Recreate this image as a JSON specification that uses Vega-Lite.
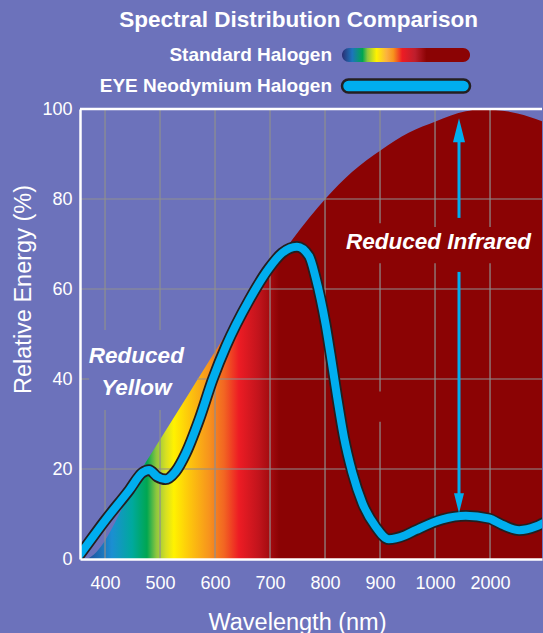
{
  "$schema": "https://vega.github.io/schema/vega-lite/v6.json",
  "background": "#6c72bb",
  "padding": {"left": 11, "top": 9, "right": 0, "bottom": 0},
  "spacing": 4,
  "title": {"text": "Spectral Distribution Comparison", "font": "Liberation Sans", "fontSize": 22.5, "fontWeight": "bold", "color": "white", "anchor": "middle", "dx": 21, "offset": 14.5},
  "config": {"view": {"stroke": null}, "font": "Liberation Sans"},
  "datasets": {
    "standard": [
      {"wavelength": 354.5, "energy": 0}, {"wavelength": 362, "energy": 0}, {"wavelength": 473, "energy": 21.3},
      {"wavelength": 550, "energy": 36.3}, {"wavelength": 625, "energy": 50.9}, {"wavelength": 662, "energy": 57.5},
      {"wavelength": 698, "energy": 63.6}, {"wavelength": 740, "energy": 70.9}, {"wavelength": 771, "energy": 75.8},
      {"wavelength": 802, "energy": 80.2}, {"wavelength": 849, "energy": 86}, {"wavelength": 902, "energy": 90.9},
      {"wavelength": 952, "energy": 94.7}, {"wavelength": 1002, "energy": 97.3}, {"wavelength": 1056, "energy": 99.5},
      {"wavelength": 1080, "energy": 99.9}, {"wavelength": 1110, "energy": 99.8}, {"wavelength": 1150, "energy": 99},
      {"wavelength": 1194.5, "energy": 97.3}
    ],
    "eye": [
      {"wavelength": 350, "energy": 0.3}, {"wavelength": 358, "energy": 1.6}, {"wavelength": 401, "energy": 8.7},
      {"wavelength": 444, "energy": 15.3}, {"wavelength": 468, "energy": 19.2}, {"wavelength": 480, "energy": 19.8},
      {"wavelength": 495, "energy": 18.3}, {"wavelength": 510, "energy": 17.7}, {"wavelength": 528, "energy": 19.4},
      {"wavelength": 547, "energy": 23.5}, {"wavelength": 571, "energy": 30.9}, {"wavelength": 596, "energy": 40},
      {"wavelength": 620, "energy": 47.3}, {"wavelength": 662, "energy": 57.5}, {"wavelength": 698, "energy": 64.6},
      {"wavelength": 722, "energy": 68}, {"wavelength": 749, "energy": 69.4}, {"wavelength": 771, "energy": 67.3},
      {"wavelength": 783, "energy": 62.5}, {"wavelength": 792, "energy": 57.8}, {"wavelength": 801, "energy": 52.2},
      {"wavelength": 810, "energy": 45.5}, {"wavelength": 822, "energy": 36}, {"wavelength": 834.5, "energy": 27},
      {"wavelength": 849.6, "energy": 19.2}, {"wavelength": 868, "energy": 12.4}, {"wavelength": 892, "energy": 7.2},
      {"wavelength": 916, "energy": 4.4}, {"wavelength": 946, "energy": 5.3}, {"wavelength": 965, "energy": 6.4},
      {"wavelength": 1013, "energy": 8.8}, {"wavelength": 1056, "energy": 9.6}, {"wavelength": 1098, "energy": 9.0},
      {"wavelength": 1122, "energy": 7.6}, {"wavelength": 1153, "energy": 6.4}, {"wavelength": 1183, "energy": 7.2},
      {"wavelength": 1200, "energy": 8.2}
    ],
    "vgrid": [
      {"wavelength": 400, "from": 0, "to": 33.1}, {"wavelength": 400, "from": 50.9, "to": 100},
      {"wavelength": 500, "from": 0, "to": 33.1}, {"wavelength": 500, "from": 50.9, "to": 100},
      {"wavelength": 600, "from": 0, "to": 100}, {"wavelength": 700, "from": 0, "to": 100},
      {"wavelength": 800, "from": 0, "to": 100},
      {"wavelength": 900, "from": 0, "to": 30.5}, {"wavelength": 900, "from": 37.2, "to": 65.7}, {"wavelength": 900, "from": 74.6, "to": 100},
      {"wavelength": 1000, "from": 0, "to": 65.7}, {"wavelength": 1000, "from": 73.8, "to": 100},
      {"wavelength": 1100, "from": 0, "to": 65.7}, {"wavelength": 1100, "from": 73.8, "to": 100}
    ],
    "hgrid": [
      {"energy": 20, "from": 354.5, "to": 1194.5},
      {"energy": 40, "from": 354.5, "to": 371}, {"energy": 40, "from": 567, "to": 1194.5},
      {"energy": 60, "from": 354.5, "to": 1194.5},
      {"energy": 80, "from": 354.5, "to": 1194.5}
    ],
    "legend": [
      {"series": "Standard Halogen"},
      {"series": "EYE Neodymium Halogen"}
    ]
  },
  "vconcat": [
    {
      "width": 462,
      "height": 31,
      "data": {"name": "legend"},
      "encoding": {
        "y": {"field": "series", "type": "nominal", "sort": null, "scale": {"type": "point", "padding": 0}, "axis": null}
      },
      "layer": [
        {
          "mark": {"type": "text", "align": "right", "baseline": "middle", "fontSize": 19, "fontWeight": "bold", "color": "white"},
          "encoding": {
            "x": {"datum": 0.5455, "type": "quantitative", "scale": {"domain": [0, 1]}, "axis": null},
            "text": {"field": "series"}
          }
        },
        {
          "transform": [{"filter": "datum.series === 'Standard Halogen'"}],
          "mark": {"type": "bar", "height": 14, "cornerRadius": 7,
            "color": {"gradient": "linear", "x1": 0, "y1": 0, "x2": 1, "y2": 0, "stops": [
              {"offset": 0, "color": "#2b2e73"}, {"offset": 0.08, "color": "#1c75bc"},
              {"offset": 0.16, "color": "#00a651"}, {"offset": 0.2, "color": "#8dc63f"},
              {"offset": 0.27, "color": "#fff200"}, {"offset": 0.35, "color": "#fbb040"},
              {"offset": 0.4, "color": "#f7941d"}, {"offset": 0.47, "color": "#ed1c24"},
              {"offset": 0.57, "color": "#be1e2d"}, {"offset": 0.66, "color": "#8b0304"},
              {"offset": 1, "color": "#8b0304"}]}},
          "encoding": {
            "x": {"datum": 0.5671, "type": "quantitative", "scale": {"domain": [0, 1]}, "axis": null},
            "x2": {"datum": 0.8442}
          }
        },
        {
          "transform": [{"filter": "datum.series === 'EYE Neodymium Halogen'"}],
          "mark": {"type": "bar", "height": 13, "cornerRadius": 6.5, "fill": "#00aeef", "stroke": "#231f20", "strokeWidth": 2.5},
          "encoding": {
            "x": {"datum": 0.5671, "type": "quantitative", "scale": {"domain": [0, 1]}, "axis": null},
            "x2": {"datum": 0.8442}
          }
        }
      ]
    },
    {
      "width": 462,
      "height": 450,
      "layer": [
        {
          "data": {"name": "standard"},
          "mark": {"type": "area", "interpolate": "monotone", "clip": true,
            "color": {"gradient": "linear", "x1": 0, "y1": 0, "x2": 1, "y2": 0, "stops": [
              {"offset": 0, "color": "#203a8a"}, {"offset": 0.069, "color": "#1b8fd2"},
              {"offset": 0.113, "color": "#00a99d"}, {"offset": 0.145, "color": "#00a651"},
              {"offset": 0.165, "color": "#8dc63f"}, {"offset": 0.186, "color": "#d7df23"},
              {"offset": 0.203, "color": "#fff200"}, {"offset": 0.236, "color": "#fdc70c"},
              {"offset": 0.279, "color": "#f7941d"}, {"offset": 0.312, "color": "#f26522"},
              {"offset": 0.344, "color": "#ed1c24"}, {"offset": 0.387, "color": "#c1141c"},
              {"offset": 0.431, "color": "#8b0304"}, {"offset": 1, "color": "#8b0304"}]}},
          "encoding": {
            "x": {"field": "wavelength", "type": "quantitative", "scale": {"domain": [354.5, 1194.5], "nice": false, "zero": false},
              "axis": {"values": [400, 500, 600, 700, 800, 900, 1000, 1100], "labelExpr": "datum.value == 1100 ? '2000' : format(datum.value, 'd')",
                "title": "Wavelength (nm)", "grid": false, "ticks": false, "tickSize": 0, "domainColor": "white", "domainWidth": 2.5,
                "labelColor": "white", "labelFontSize": 18, "labelPadding": 15, "titleColor": "white", "titleFontSize": 23.5,
                "titleFontWeight": "normal", "titlePadding": 18, "titleX": 217, "zindex": 1}},
            "y": {"field": "energy", "type": "quantitative", "scale": {"domain": [0, 100], "nice": false, "zero": false},
              "axis": {"values": [0, 20, 40, 60, 80, 100], "title": "Relative Energy (%)", "grid": false, "ticks": false, "tickSize": 0,
                "domainColor": "white", "domainWidth": 2.5, "labelColor": "white", "labelFontSize": 18, "labelPadding": 8,
                "titleColor": "white", "titleFontSize": 23.5, "titleFontWeight": "normal", "titlePadding": 6, "titleY": 180, "zindex": 1}}
          }
        },
        {
          "data": {"name": "vgrid"},
          "mark": {"type": "rule", "color": "#8f8f8f", "strokeWidth": 1.2},
          "encoding": {
            "x": {"field": "wavelength", "type": "quantitative", "scale": {"domain": [354.5, 1194.5], "nice": false, "zero": false}},
            "y": {"field": "from", "type": "quantitative", "scale": {"domain": [0, 100], "nice": false, "zero": false}},
            "y2": {"field": "to"}
          }
        },
        {
          "data": {"name": "hgrid"},
          "mark": {"type": "rule", "color": "#8f8f8f", "strokeWidth": 1.2},
          "encoding": {
            "y": {"field": "energy", "type": "quantitative", "scale": {"domain": [0, 100], "nice": false, "zero": false}},
            "x": {"field": "from", "type": "quantitative", "scale": {"domain": [354.5, 1194.5], "nice": false, "zero": false}},
            "x2": {"field": "to"}
          }
        },
        {
          "data": {"values": [{}]},
          "mark": {"type": "rule", "color": "white", "strokeWidth": 2.7},
          "encoding": {
            "y": {"datum": 100, "type": "quantitative", "scale": {"domain": [0, 100], "nice": false, "zero": false}}
          }
        },
        {
          "data": {"name": "eye"},
          "mark": {"type": "line", "interpolate": "monotone", "clip": true, "color": "#231f20", "strokeWidth": 11.5, "strokeJoin": "round"},
          "encoding": {
            "x": {"field": "wavelength", "type": "quantitative", "scale": {"domain": [354.5, 1194.5], "nice": false, "zero": false}},
            "y": {"field": "energy", "type": "quantitative", "scale": {"domain": [0, 100], "nice": false, "zero": false}}
          }
        },
        {
          "data": {"name": "eye"},
          "mark": {"type": "line", "interpolate": "monotone", "clip": true, "color": "#00aeef", "strokeWidth": 8, "strokeJoin": "round"},
          "encoding": {
            "x": {"field": "wavelength", "type": "quantitative", "scale": {"domain": [354.5, 1194.5], "nice": false, "zero": false}},
            "y": {"field": "energy", "type": "quantitative", "scale": {"domain": [0, 100], "nice": false, "zero": false}}
          }
        },
        {
          "data": {"values": [{}]},
          "mark": {"type": "rule", "color": "#00aeef", "strokeWidth": 3},
          "encoding": {
            "x": {"datum": 1043.6, "type": "quantitative", "scale": {"domain": [354.5, 1194.5], "nice": false, "zero": false}},
            "y": {"datum": 93, "type": "quantitative", "scale": {"domain": [0, 100], "nice": false, "zero": false}},
            "y2": {"datum": 75.8}
          }
        },
        {
          "data": {"values": [{}]},
          "mark": {"type": "rule", "color": "#00aeef", "strokeWidth": 3},
          "encoding": {
            "x": {"datum": 1043.6, "type": "quantitative", "scale": {"domain": [354.5, 1194.5], "nice": false, "zero": false}},
            "y": {"datum": 63.8, "type": "quantitative", "scale": {"domain": [0, 100], "nice": false, "zero": false}},
            "y2": {"datum": 12}
          }
        },
        {
          "data": {"values": [{}]},
          "mark": {"type": "point", "filled": true, "color": "#00aeef", "opacity": 1, "size": 576, "shape": "M0,-1L0.5,1L-0.5,1Z"},
          "encoding": {
            "x": {"datum": 1043.6, "type": "quantitative", "scale": {"domain": [354.5, 1194.5], "nice": false, "zero": false}},
            "y": {"datum": 95.3, "type": "quantitative", "scale": {"domain": [0, 100], "nice": false, "zero": false}}
          }
        },
        {
          "data": {"values": [{}]},
          "mark": {"type": "point", "filled": true, "color": "#00aeef", "opacity": 1, "size": 400, "shape": "M0,1L0.5,-1L-0.5,-1Z"},
          "encoding": {
            "x": {"datum": 1043.6, "type": "quantitative", "scale": {"domain": [354.5, 1194.5], "nice": false, "zero": false}},
            "y": {"datum": 12.4, "type": "quantitative", "scale": {"domain": [0, 100], "nice": false, "zero": false}}
          }
        },
        {
          "data": {"values": [{}]},
          "mark": {"type": "text", "text": "Reduced Infrared", "align": "center", "baseline": "middle", "fontSize": 22.5, "fontWeight": "bold", "fontStyle": "italic", "color": "white"},
          "encoding": {
            "x": {"datum": 1006.4, "type": "quantitative", "scale": {"domain": [354.5, 1194.5], "nice": false, "zero": false}},
            "y": {"datum": 70.4, "type": "quantitative", "scale": {"domain": [0, 100], "nice": false, "zero": false}}
          }
        },
        {
          "data": {"values": [{}]},
          "mark": {"type": "text", "text": ["Reduced", "Yellow"], "align": "center", "baseline": "middle", "lineHeight": 32, "fontSize": 22.5, "fontWeight": "bold", "fontStyle": "italic", "color": "white"},
          "encoding": {
            "x": {"datum": 457, "type": "quantitative", "scale": {"domain": [354.5, 1194.5], "nice": false, "zero": false}},
            "y": {"datum": 45.1, "type": "quantitative", "scale": {"domain": [0, 100], "nice": false, "zero": false}}
          }
        }
      ]
    }
  ]
}
